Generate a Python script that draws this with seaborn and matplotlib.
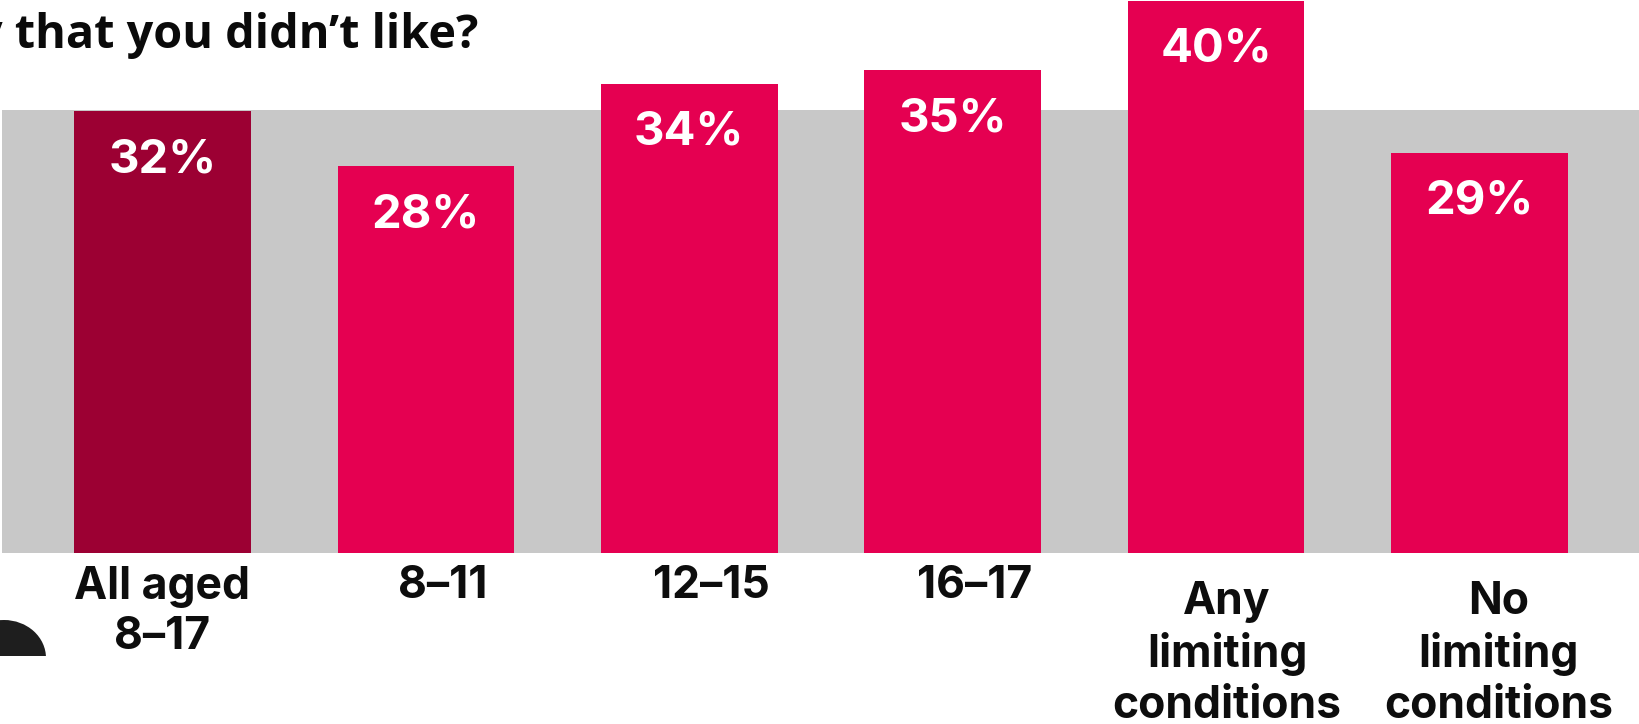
import matplotlib
matplotlib.use("Agg")
import matplotlib.pyplot as plt
from matplotlib.patches import Ellipse
from matplotlib.transforms import Affine2D, ScaledTranslation
import pandas as pd
import seaborn as sns

categories = ["All aged\n8–17", "8–11", "12–15", "16–17",
              "Any\nlimiting\nconditions", "No\nlimiting\nconditions"]
values = [32, 28, 34, 35, 40, 29]
bar_colors = ["#9C0033", "#E50051", "#E50051", "#E50051", "#E50051", "#E50051"]
band_top = 32.1
title_tail = "y that you didn’t like?"

sns.set_theme(style="white")
plt.rcParams["font.family"] = ["Inter", "DejaVu Sans"]

W, H = 1639, 724
fig = plt.figure(figsize=(W / 100, H / 100), dpi=100, facecolor="white")
ax = fig.add_axes([2 / W, (H - 553) / H, (W - 2) / W, 553 / H])

df = pd.DataFrame({"group": categories, "share": values})
ax.axhspan(0, band_top, color="#C8C8C8", lw=0, zorder=0)
sns.barplot(data=df, x="group", y="share", hue="group", palette=bar_colors,
            width=0.67, dodge=False, legend=False, saturation=1, ax=ax,
            zorder=2, linewidth=0)

ax.set_xlim(-0.609, 5.605)
ax.set_ylim(0, 40.05)
ax.set_xlabel("")
ax.set_ylabel("")
ax.set_yticks([])
sns.despine(ax=ax, left=True, bottom=True)

# Percentages sit inside the top of each bar
for container in ax.containers:
    for t in ax.bar_label(container, fmt="%d%%", padding=-35.5, color="white",
                          fontsize=34, fontweight="bold"):
        t.set_verticalalignment("center")
        t.set_horizontalalignment("center")

# Condition groups hang lower than the age groups, and most labels
# sit a little to the right of their bar
ax.tick_params(axis="x", length=0)
shifts_px = [0, 17, 22, 22, 11, 19]
for i, tick in enumerate(ax.xaxis.get_major_ticks()):
    tick.set_pad(20 if i >= 4 else 9)
    label = tick.label1
    label.set_fontsize(32)
    label.set_fontweight("bold")
    label.set_color("#0D0D0D")
    label.set_linespacing(1.27)
    label.set_transform(label.get_transform()
                        + ScaledTranslation(shifts_px[i] / 100, 0, fig.dpi_scale_trans))

fig.text(478 / W, 1 - 48 / H, title_tail, ha="right", va="baseline",
         fontsize=33.7, fontweight="bold", color="#0A0A0A", family="Open Sans")

# Dark shape cut off by the lower-left edge
shape = Ellipse((4, 658), 84, 76, facecolor="#1E1E1E", edgecolor="none")
fig.add_artist(shape)
shape.set_transform(Affine2D().scale(1, -1).translate(0, H))
cover = plt.Rectangle((0, 0), 60 / W, (H - 656) / H, facecolor="white",
                      edgecolor="none", transform=fig.transFigure)
fig.add_artist(cover)

fig.savefig("out.png", dpi=100, facecolor="white")
